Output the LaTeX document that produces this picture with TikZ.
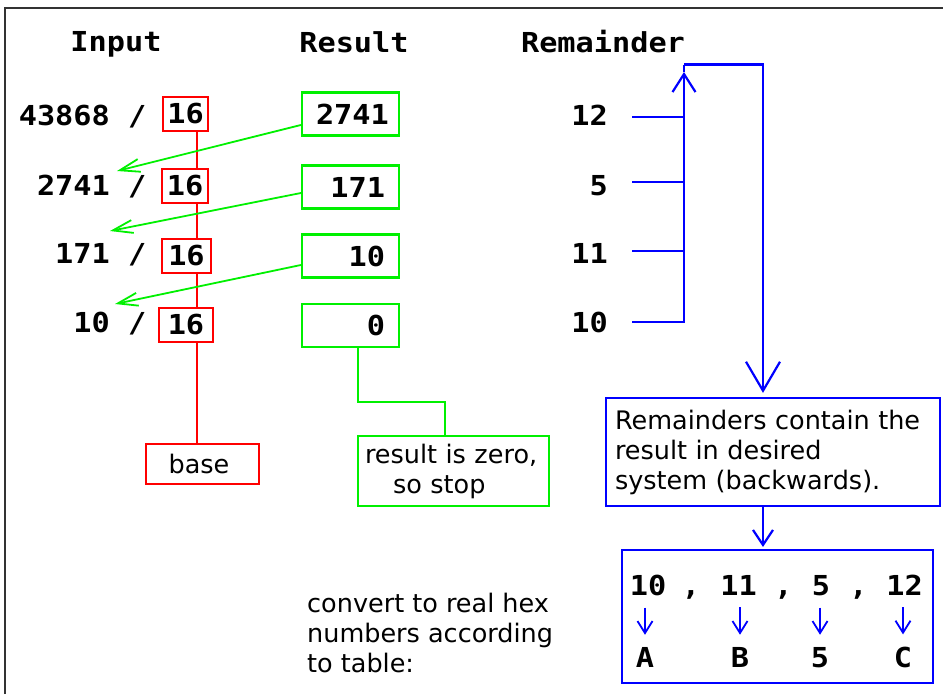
\documentclass[tikz,border=0pt]{standalone}
\usepackage{fontspec}
\usetikzlibrary{arrows.meta,calc}
\newfontfamily\monob{DejaVu Sans Mono}[FakeStretch=1.1]
\newfontfamily\sansf{DejaVu Sans}
\definecolor{rred}{RGB}{255,0,0}
\definecolor{ggreen}{RGB}{0,240,0}
\definecolor{bblue}{RGB}{0,0,255}
\begin{document}
\begin{tikzpicture}[x=1pt,y=-1pt,
  monofont/.style={font=\monob\bfseries\fontsize{27.5}{30}\selectfont},
  sansfont/.style={font=\sansf\fontsize{25.5}{30}\selectfont},
  mono/.style={monofont, inner sep=0pt},
  frame/.style={draw=black!80, line width=2.5pt},
  rbox/.style={draw=rred, line width=2.2pt, minimum height=34pt, inner sep=0pt, monofont},
  basebox/.style={draw=rred, line width=2.2pt, minimum width=113pt, minimum height=40pt, inner sep=0pt, sansfont},
  gbox/.style={draw=ggreen, line width=2.2pt, minimum width=97pt, minimum height=43pt, text width=69pt, inner xsep=14pt, inner ysep=0pt, align=right, monofont},
  stopbox/.style={draw=ggreen, line width=2.2pt, minimum width=191pt, minimum height=70pt, text width=177pt, inner xsep=7pt, inner ysep=0pt, align=left, sansfont},
  bbox/.style={draw=bblue, line width=2.2pt},
  rline/.style={draw=rred, line width=2pt},
  gline/.style={draw=ggreen, line width=2pt},
  garrow/.style={draw=ggreen, line width=1.8pt, -{Straight Barb[length=20pt,width=13pt]}},
  bline/.style={draw=bblue, line width=2.2pt},
  sarrow/.style={draw=bblue, line width=1.8pt, -{Straight Barb[length=12pt,width=15pt]}}
]
\path[use as bounding box] (0,0) rectangle (943,694);
\draw[frame] (5,694) -- (5,8) -- (943,8);

% headers
\node[mono,anchor=base] (hin) at (116,51) {Input};
\node[mono,anchor=base] (hres) at (354,52) {Result};
\node[mono,anchor=base] (hrem) at (603,52) {Remainder};

% inputs
\node[mono,anchor=base east] (in1) at (146.5,125.5) {43868 /};
\node[mono,anchor=base east] (in2) at (146.5,195) {2741 /};
\node[mono,anchor=base east] (in3) at (146.5,263.5) {171 /};
\node[mono,anchor=base east] (in4) at (146.5,332.5) {10 /};

% red base boxes
\node[rbox,minimum width=45pt] (b1) at (185.5,114) {16};
\node[rbox,minimum width=46pt] (b2) at (185,186) {16};
\node[rbox,minimum width=49pt] (b3) at (186.5,256) {16};
\node[rbox,minimum width=54pt] (b4) at (186,325) {16};
\node[basebox] (base) at (202.5,464) {base\hspace*{7pt}};
\coordinate (rx) at (197,0);
\draw[rline] (b1.south -| rx) -- (b2.north -| rx);
\draw[rline] (b2.south -| rx) -- (b3.north -| rx);
\draw[rline] (b3.south -| rx) -- (b4.north -| rx);
\draw[rline] (b4.south -| rx) -- (base.north -| rx);

% results
\node[gbox] (r1) at (350.5,114) {2741};
\node[gbox] (r2) at (350.5,187) {171};
\node[gbox] (r3) at (350.5,256) {10};
\node[gbox] (r4) at (350.5,325.5) {0};
\coordinate (e1) at (117,171);
\coordinate (e2) at (110,231);
\coordinate (e3) at (115,304);
\draw[garrow] ([yshift=-11pt]r1.west) -- (e1);
\draw[garrow] ([yshift=-6pt]r2.west) -- (e2);
\draw[garrow] ([yshift=-9pt]r3.west) -- (e3);
\node[stopbox] (stop) at (453.5,471) {result is zero,\\\hspace*{28pt}so stop};
\draw[gline] ([xshift=7.5pt]r4.south) -- ++(0,54) -| ([xshift=-8.5pt]stop.north);

% remainders
\node[mono,anchor=base east] (m12) at (608,125.5) {12};
\node[mono,anchor=base east] (m5) at (608,195) {5};
\node[mono,anchor=base east] (m11) at (608,263.5) {11};
\node[mono,anchor=base east] (m10) at (608,332.5) {10};
\coordinate (bus) at (684,64.5);
\coordinate (bx) at (763,0);
\draw[bline] ([xshift=24pt,yshift=-1.5pt]m12.east) -- ([yshift=-1.5pt]m12.east -| bus);
\draw[bline] ([xshift=24pt,yshift=3pt]m5.east) -- ([yshift=3pt]m5.east -| bus);
\draw[bline] ([xshift=24pt,yshift=2.5pt]m11.east) -- ([yshift=2.5pt]m11.east -| bus);
\draw[bline,-{Straight Barb[length=18pt,width=23pt]}] ([xshift=24pt,yshift=0.5pt]m10.east) -- ([yshift=0.5pt]m10.east -| bus) -- ([yshift=-7.5pt]bus);
\draw[bline] ([yshift=-7.5pt]bus) -- (bus);

\node[bbox, minimum width=334pt, minimum height=108pt, text width=316pt, inner xsep=9pt, inner ysep=0pt, align=left, sansfont] (expl) at (773,452) {Remainders contain the\\result in desired\\system (backwards).};
\draw[bline,-{Straight Barb[length=29pt,width=34pt]}, shorten >=4pt] (bus) -| (expl.north -| bx);

\node[bbox, minimum width=311pt, minimum height=133pt] (tbl) at (777.5,616.5) {};
\draw[bline,-{Straight Barb[length=15pt,width=20pt]}, shorten >=2pt] (expl.south -| bx) -- (tbl.north -| bx);

\node[mono,anchor=base] (t10) at (648,595) {10};
\node[mono,anchor=base] (tc1) at (691,595) {,};
\node[mono,anchor=base] (t11) at (738.5,595) {11};
\node[mono,anchor=base] (tc2) at (783.5,595) {,};
\node[mono,anchor=base] (t5) at (821,595) {5};
\node[mono,anchor=base] (tc3) at (858.5,595) {,};
\node[mono,anchor=base] (t12) at (904.5,595) {12};
\node[mono,anchor=base] (lA) at (645,667) {A};
\node[mono,anchor=base] (lB) at (740,667) {B};
\node[mono,anchor=base] (l5) at (820,667) {5};
\node[mono,anchor=base] (lC) at (903,667) {C};
\draw[sarrow, shorten <=12pt, shorten >=12pt] (t10.south -| lA) -- (lA.north);
\draw[sarrow, shorten <=12pt, shorten >=12pt] (t11.south -| lB) -- (lB.north);
\draw[sarrow, shorten <=12pt, shorten >=12pt] (t5.south -| l5) -- (l5.north);
\draw[sarrow, shorten <=12pt, shorten >=12pt] (t12.south -| lC) -- (lC.north);

\node[sansfont, align=left, anchor=west, inner sep=0pt] (note) at (307,633) {convert to real hex\\numbers according\\to table:};
\end{tikzpicture}
\end{document}
